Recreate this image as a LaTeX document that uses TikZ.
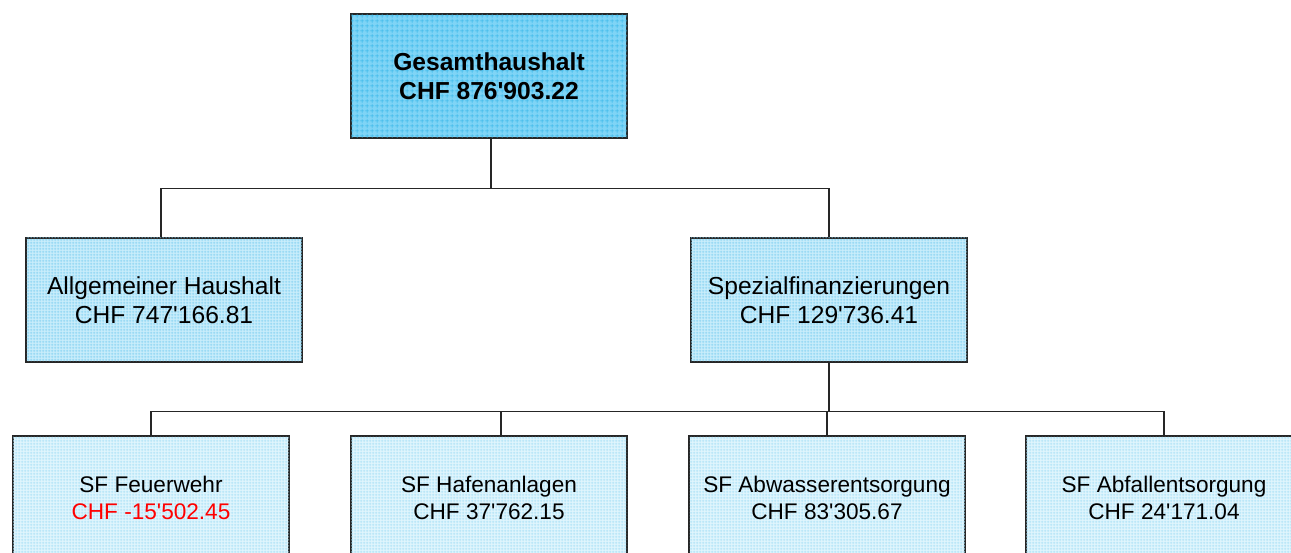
\documentclass[tikz,border=0pt]{standalone}
\usepackage{fontspec}
\setmainfont{Liberation Sans}
\usetikzlibrary{patterns.meta}
\definecolor{topfill}{HTML}{7FD4F6}
\definecolor{topgrid}{HTML}{36B6E8}
\definecolor{midfill}{HTML}{C8EDFB}
\definecolor{midgrid}{HTML}{84D1F1}
\definecolor{lowfill}{HTML}{E0F5FD}
\definecolor{lowgrid}{HTML}{A8E0F6}
\newcommand{\apo}{\textquotesingle}
\tikzdeclarepattern{name=coarsegrid, type=uncolored,
	bounding box={(0,0) and (5pt,5pt)}, tile size={(5pt,5pt)},
	code={\draw[line width=0.8pt] (0,2.5pt) -- (5pt,2.5pt) (2.5pt,0) -- (2.5pt,5pt);}}
\tikzdeclarepattern{name=finegrid, type=uncolored,
	bounding box={(0,0) and (3pt,3pt)}, tile size={(3pt,3pt)},
	code={\draw[line width=0.6pt] (0,1.5pt) -- (3pt,1.5pt) (1.5pt,0) -- (1.5pt,3pt);}}
\tikzset{
	box/.style={draw=black!85, line width=1.2pt, minimum width=276pt, minimum height=124pt,
		inner sep=0pt, align=center, font=\fontsize{24.6}{29}\selectfont},
	topbox/.style={box, fill=topfill, postaction={pattern=coarsegrid, pattern color=topgrid}, font=\fontsize{24.6}{29}\selectfont\bfseries},
	midbox/.style={box, fill=midfill, postaction={pattern=finegrid, pattern color=midgrid}},
	lowbox/.style={box, fill=lowfill, postaction={pattern=finegrid, pattern color=lowgrid}, font=\fontsize{22.6}{27}\selectfont},
	conn/.style={draw=black!85, line width=1.2pt}
}

\begin{document}
\begin{tikzpicture}[x=1pt,y=1pt]
					\useasboundingbox (0,0) rectangle (1291,-553);
					%LEVEL 1
					\node[topbox] (gesamt) at (489,-76) {Gesamthaushalt\\CHF 876\apo903.22};
					%LEVEL 2
					\node[midbox] (allg) at (164,-300) {Allgemeiner Haushalt\\CHF 747\apo166.81};
					\node[midbox] (spez) at (829,-300) {Spezialfinanzierungen\\CHF 129\apo736.41};
					%LEVEL 3
					\begin{scope}
					\clip (0,0) rectangle (1291,-553);
					\node[lowbox] (feuer) at (151,-498) {SF Feuerwehr\\\textcolor{red}{CHF -15\apo502.45}};
					\node[lowbox] (hafen) at (489,-498) {SF Hafenanlagen\\CHF 37\apo762.15};
					\node[lowbox] (abwasser) at (827,-498) {SF Abwasserentsorgung\\CHF 83\apo305.67};
					\node[lowbox] (abfall) at (1164,-498) {SF Abfallentsorgung\\CHF 24\apo171.04};
					\end{scope}
					%CONNECTORS
					\draw[conn] ([xshift=2pt]gesamt.south) -- ++(0,-50) coordinate (bus1);
					\draw[conn] (bus1) -| ([xshift=-3pt]allg.north);
					\draw[conn] (bus1) -| (spez.north);
					\draw[conn] (spez.south) -- ++(0,-49) coordinate (bus2);
					\draw[conn] (bus2) -| (feuer.north);
					\draw[conn] (bus2) -| ([xshift=12pt]hafen.north);
					\draw[conn] (bus2) -| (abwasser.north);
					\draw[conn] (bus2) -| (abfall.north);
\end{tikzpicture}
\end{document}
